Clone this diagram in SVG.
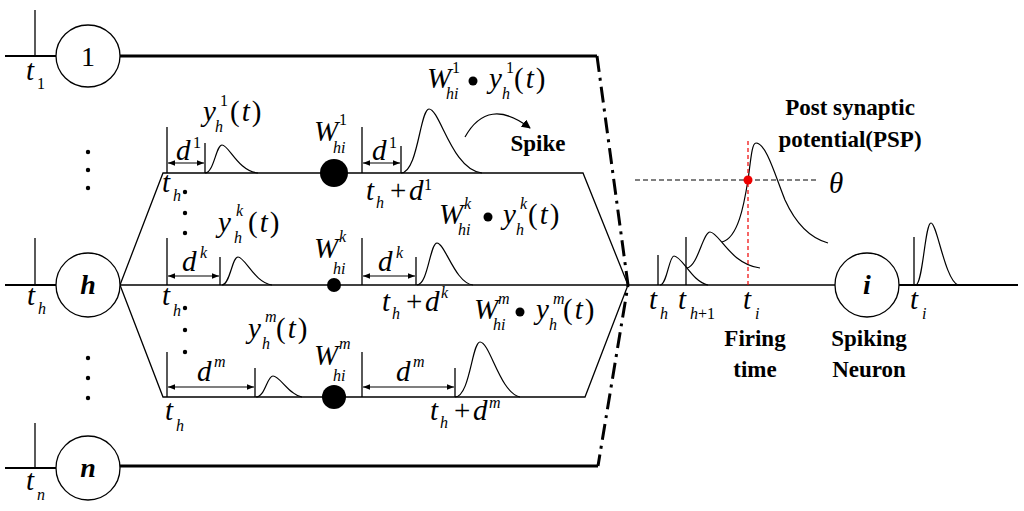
<svg xmlns="http://www.w3.org/2000/svg" width="1024" height="511" viewBox="0 0 1024 511">
<defs>
<marker id="ah" viewBox="0 0 10 10" refX="10" refY="5" markerWidth="7" markerHeight="7" orient="auto-start-reverse" markerUnits="userSpaceOnUse"><path d="M0,1 L10,5 L0,9 Z" fill="#000"/></marker>
<marker id="ah2" viewBox="0 0 10 10" refX="9" refY="5" markerWidth="9" markerHeight="9" orient="auto" markerUnits="userSpaceOnUse"><path d="M0,0 L10,5 L0,10 Z" fill="#000"/></marker>
<style>
.ln{stroke:#000;stroke-width:1.3;fill:none}
.thk{stroke:#000;stroke-width:3;fill:none}
.stub{stroke:#000;stroke-width:2;fill:none}
.cv{stroke:#000;stroke-width:1.2;fill:none}
.dd{stroke:#000;stroke-width:3;fill:none;stroke-dasharray:16 6 3 6}
.arr{stroke:#000;stroke-width:1.2;fill:none;marker-start:url(#ah);marker-end:url(#ah)}
.m{font-family:"Liberation Serif","DejaVu Serif","Times New Roman",serif;font-style:italic;font-size:29px;fill:#000}
.s{font-size:16px}
.b{font-family:"Liberation Serif","DejaVu Serif","Times New Roman",serif;font-weight:bold;font-size:23px;fill:#000;text-anchor:middle}
.nd{fill:#fff;stroke:#000;stroke-width:1.3}
.nl{font-family:"Liberation Serif","DejaVu Serif","Times New Roman",serif;font-size:28px;fill:#000;text-anchor:middle}
.dot{fill:#000}
</style>
</defs>

<g id="connectors">
<path class="stub" d="M5,56 H56"/><path class="ln" d="M35,10 V56"/>
<path class="stub" d="M5,285 H56"/><path class="ln" d="M35,238 V285"/>
<path class="stub" d="M5,468 H56"/><path class="ln" d="M35,423 V468"/>
<path class="thk" d="M120,56 H597"/>
<path class="thk" d="M120,466 H598"/>
<path class="dd" d="M597,56 L628,285 L598,466"/>
<path class="ln" d="M120,285 L163,173 H583 L628,285"/>
<path class="ln" d="M120,285 H836"/>
<path class="ln" d="M120,285 L163,397 H585 L628,285"/>
<path class="stub" d="M898,285 H1018"/>
<path class="ln" d="M167,127 V173 M205,143 V173 M362,127 V173 M401,146 V173"/>
<path class="arr" d="M168,163 H204"/>
<path class="arr" d="M363,163 H400"/>
<path class="ln" d="M167,238 V285 M220,257 V285 M362,238 V285 M416,257 V285"/>
<path class="arr" d="M168,276 H219"/>
<path class="arr" d="M363,276 H415"/>
<path class="ln" d="M167,352 V397 M255,368 V397 M362,352 V397 M455,368 V397"/>
<path class="arr" d="M168,387 H254"/>
<path class="arr" d="M363,387 H454"/>
<path class="cv" d="M205,173 C214,173 216,145 222,145 C229,145 238,171 258,173"/>
<path class="cv" d="M401,173 C418,173 420,109 429,109 C440,109 452,170 482,173"/>
<path class="cv" d="M222,285 C230,285 232,257 238,257 C245,257 255,283 272,285"/>
<path class="cv" d="M417,285 C428,285 430,243 437,243 C445,243 455,283 473,285"/>
<path class="cv" d="M256,397 C265,397 267,376 273,376 C280,376 289,395 302,397"/>
<path class="cv" d="M455,397 C470,397 472,342 480,342 C490,342 500,393 520,397"/>
<path class="cv" d="M465,137 Q488,96 530,128" marker-end="url(#ah2)"/>
<path class="ln" d="M658,255 V285 M686,237 V285 M914,237 V285"/>
<path class="cv" d="M660,285 C667,285 669,256 674,256 C682,256 692,282 708,285"/>
<path class="cv" d="M687,268 C698,266 703,232 710,232 C719,232 730,264 760,268"/>
<path class="cv" d="M722,242 C738,238 744,205 748,180 C751,158 752,143 756,143 C766,143 775,175 785,200 C795,222 810,238 828,243"/>
<path class="cv" d="M916,285 C923,283 925,223 931,223 C937,223 945,280 958,285"/>
<path d="M635,180 H818" stroke="#000" stroke-width="1.1" stroke-dasharray="5 3" fill="none"/>
<path d="M748,141 V285" stroke="#e00" stroke-width="1.2" stroke-dasharray="4 3" fill="none"/>
<circle cx="748" cy="180" r="4.5" fill="#e00"/>
</g>

<g id="node-1"><ellipse class="nd" cx="88" cy="56" rx="32" ry="31"/><text class="nl" x="88" y="66">1</text></g>
<g id="node-h"><circle class="nd" cx="88" cy="285" r="32"/><text class="nl" x="88" y="294" font-weight="bold" font-style="italic">h</text></g>
<g id="node-n"><ellipse class="nd" cx="88" cy="468" rx="32" ry="32"/><text class="nl" x="88" y="477" font-weight="bold" font-style="italic">n</text></g>
<g id="node-i"><circle class="nd" cx="867" cy="285" r="32"/><text class="nl" x="867" y="294" font-weight="bold" font-style="italic">i</text></g>

<g id="weights">
<circle class="dot" cx="334" cy="173" r="14"/>
<circle class="dot" cx="334" cy="285" r="7"/>
<circle class="dot" cx="334" cy="397" r="12"/>
</g>

<g id="ellipses">
<circle class="dot" cx="88" cy="152" r="2.2"/><circle class="dot" cx="88" cy="170" r="2.2"/><circle class="dot" cx="88" cy="188" r="2.2"/>
<circle class="dot" cx="88" cy="358" r="2.2"/><circle class="dot" cx="88" cy="378" r="2.2"/><circle class="dot" cx="88" cy="398" r="2.2"/>
<circle class="dot" cx="185" cy="192" r="2.2"/><circle class="dot" cx="185" cy="213" r="2.2"/><circle class="dot" cx="185" cy="233" r="2.2"/>
<circle class="dot" cx="185" cy="308" r="2.2"/><circle class="dot" cx="185" cy="330" r="2.2"/><circle class="dot" cx="185" cy="352" r="2.2"/>
</g>

<g id="labels">
<text class="m" x="26" y="80">t<tspan class="s" x="37" y="89" font-style="normal">1</tspan></text>
<text class="m" x="27" y="305">t<tspan class="s" x="38" y="314">h</tspan></text>
<text class="m" x="26" y="490">t<tspan class="s" x="37" y="500">n</tspan></text>
<text class="m" x="162" y="192">t<tspan class="s" x="173" y="201">h</tspan></text>
<text class="m" x="162" y="305">t<tspan class="s" x="173" y="316">h</tspan></text>
<text class="m" x="165" y="420">t<tspan class="s" x="176" y="431">h</tspan></text>
<text class="m" x="203" y="121">y<tspan class="s" x="220" y="106" font-style="normal">1</tspan><tspan class="s" x="215" y="132">h</tspan><tspan x="230" y="121" font-style="normal" letter-spacing="2">(<tspan font-style="italic">t</tspan>)</tspan></text>
<text class="m" x="218" y="232">y<tspan class="s" x="236" y="216">k</tspan><tspan class="s" x="234" y="243">h</tspan><tspan x="248" y="232" font-style="normal" letter-spacing="2">(<tspan font-style="italic">t</tspan>)</tspan></text>
<text class="m" x="248" y="338">y<tspan class="s" x="265" y="322">m</tspan><tspan class="s" x="262" y="349">h</tspan><tspan x="276" y="338" font-style="normal" letter-spacing="2">(<tspan font-style="italic">t</tspan>)</tspan></text>
<text class="m" x="176" y="160">d<tspan class="s" x="193" y="148" font-style="normal">1</tspan></text>
<text class="m" x="372" y="160">d<tspan class="s" x="389" y="148" font-style="normal">1</tspan></text>
<text class="m" x="182" y="271">d<tspan class="s" x="200" y="258">k</tspan></text>
<text class="m" x="378" y="271">d<tspan class="s" x="396" y="258">k</tspan></text>
<text class="m" x="197" y="381">d<tspan class="s" x="214" y="367">m</tspan></text>
<text class="m" x="396" y="381">d<tspan class="s" x="413" y="367">m</tspan></text>
<text class="m" x="314" y="141">W<tspan class="s" x="339" y="125" font-style="normal">1</tspan><tspan class="s" x="333" y="153">hi</tspan></text>
<text class="m" x="314" y="258">W<tspan class="s" x="339" y="242">k</tspan><tspan class="s" x="333" y="274">hi</tspan></text>
<text class="m" x="314" y="365">W<tspan class="s" x="339" y="349">m</tspan><tspan class="s" x="333" y="381">hi</tspan></text>
<text class="m" x="366" y="200">t<tspan class="s" x="376" y="208">h</tspan><tspan x="390" y="200" font-style="normal">+</tspan><tspan x="409" y="200">d</tspan><tspan class="s" x="424" y="190" font-style="normal">1</tspan></text>
<text class="m" x="382" y="311">t<tspan class="s" x="392" y="319">h</tspan><tspan x="406" y="311" font-style="normal">+</tspan><tspan x="425" y="311">d</tspan><tspan class="s" x="441" y="298">k</tspan></text>
<text class="m" x="430" y="420">t<tspan class="s" x="440" y="428">h</tspan><tspan x="454" y="420" font-style="normal">+</tspan><tspan x="473" y="420">d</tspan><tspan class="s" x="489" y="408">m</tspan></text>
<text class="m" x="427" y="88">W<tspan class="s" x="452" y="73" font-style="normal">1</tspan><tspan class="s" x="446" y="99">hi</tspan><tspan x="489" y="88">y</tspan><tspan class="s" x="506" y="73" font-style="normal">1</tspan><tspan class="s" x="502" y="99">h</tspan><tspan x="514" y="88" font-style="normal" letter-spacing="2">(<tspan font-style="italic">t</tspan>)</tspan></text>
<circle class="dot" cx="473" cy="81" r="4.5"/>
<text class="m" x="439" y="224">W<tspan class="s" x="464" y="209">k</tspan><tspan class="s" x="458" y="235">hi</tspan><tspan x="503" y="224">y</tspan><tspan class="s" x="520" y="209">k</tspan><tspan class="s" x="516" y="235">h</tspan><tspan x="528" y="224" font-style="normal" letter-spacing="2">(<tspan font-style="italic">t</tspan>)</tspan></text>
<circle class="dot" cx="488" cy="217" r="4.5"/>
<text class="m" x="474" y="319">W<tspan class="s" x="498" y="304">m</tspan><tspan class="s" x="493" y="330">hi</tspan><tspan x="536" y="319">y</tspan><tspan class="s" x="553" y="304">m</tspan><tspan class="s" x="549" y="330">h</tspan><tspan x="563" y="319" font-style="normal" letter-spacing="2">(<tspan font-style="italic">t</tspan>)</tspan></text>
<circle class="dot" cx="520" cy="312" r="4.5"/>
<text class="m" x="649" y="309">t<tspan class="s" x="660" y="319">h</tspan></text>
<text class="m" x="678" y="309">t<tspan class="s" x="690" y="319" font-style="normal"><tspan font-style="italic">h</tspan>+1</tspan></text>
<text class="m" x="743" y="309">t<tspan class="s" x="755" y="319">i</tspan></text>
<text class="m" x="910" y="309">t<tspan class="s" x="922" y="319">i</tspan></text>
<text class="m" x="829" y="193" font-size="32">θ</text>
<text class="b" x="538" y="151" font-size="24">Spike</text>
<text class="b" x="850" y="115">Post synaptic</text>
<text class="b" x="850" y="147">potential(PSP)</text>
<text class="b" x="755" y="346">Firing</text>
<text class="b" x="755" y="377">time</text>
<text class="b" x="869" y="346">Spiking</text>
<text class="b" x="869" y="377">Neuron</text>
</g>
</svg>
